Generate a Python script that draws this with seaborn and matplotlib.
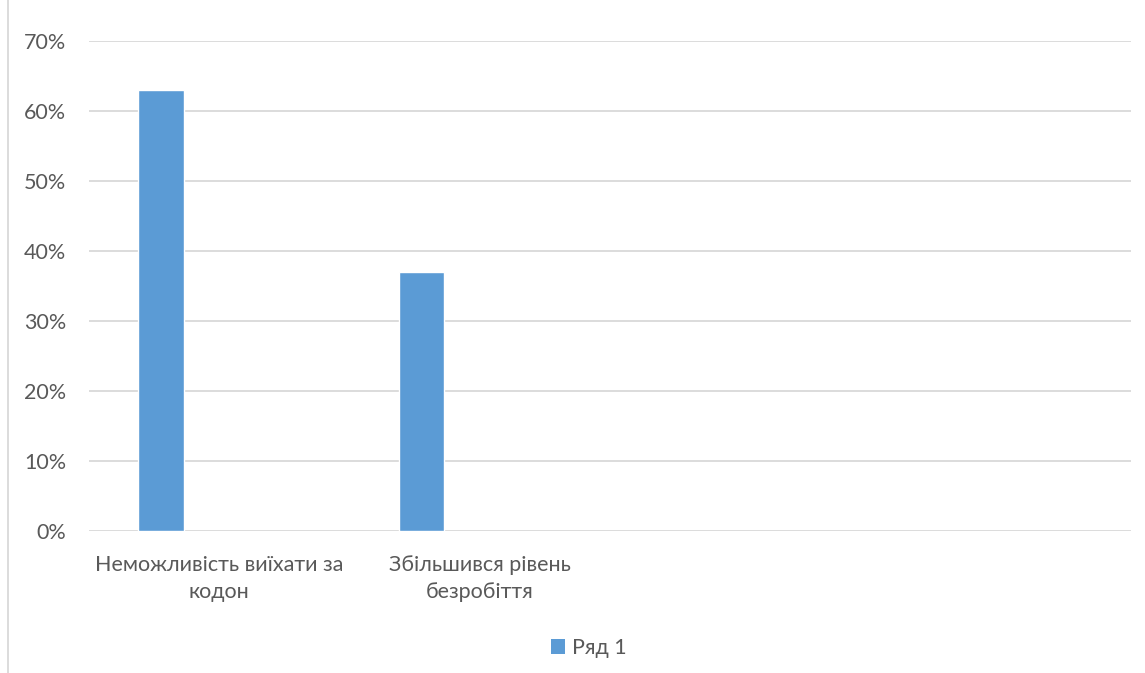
import matplotlib
matplotlib.use("Agg")
import matplotlib.pyplot as plt
import seaborn as sns
import pandas as pd
import numpy as np
from matplotlib.patches import Patch
from matplotlib.lines import Line2D
from matplotlib.ticker import PercentFormatter

# Data
categories = ["Неможливість виїхати за\nкодон", "Збільшився рівень\nбезробіття", " ", "  "]
series_names = ["Ряд 1", "Ряд 2", "Ряд 3"]
series1 = [0.63, 0.37, np.nan, np.nan]
series2 = [np.nan, np.nan, np.nan, np.nan]
series3 = [np.nan, np.nan, np.nan, np.nan]
yticks = [0, 0.1, 0.2, 0.3, 0.4, 0.5, 0.6, 0.7]

rows = []
for name, vals in zip(series_names, [series1, series2, series3]):
    for c, v in zip(categories, vals):
        rows.append({"cat": c, "series": name, "value": v})
df = pd.DataFrame(rows)

sns.set_theme(style="white")
plt.rcParams['font.family'] = ['Lato', 'DejaVu Sans']

fig = plt.figure(figsize=(11.45, 6.73), dpi=100)
ax = fig.add_axes([89/1145, 1 - 531/673, (1131-89)/1145, (531-41)/673])

bar_color = "#5B9BD5"
sns.barplot(data=df, x="cat", y="value", hue="series", order=categories,
            hue_order=series_names, palette=[bar_color, bar_color, bar_color],
            width=0.669, gap=0.215, legend=False, ax=ax, saturation=1)

ax.set_ylim(0, 0.7)
ax.set_xlim(-0.5, 3.5)
ax.set_yticks(yticks)
ax.yaxis.set_major_formatter(PercentFormatter(1.0, decimals=0))
ax.grid(axis="y", color="#d9d9d9", linewidth=1.3)
ax.set_axisbelow(True)
for s in ax.spines.values():
    s.set_visible(False)
ax.set_xlabel("")
ax.set_ylabel("")
text_color = "#595959"
fs = 15.5
ax.tick_params(axis="y", length=0, pad=16.5, labelsize=fs, labelcolor=text_color)
ax.tick_params(axis="x", length=0, pad=17.5, labelsize=fs, labelcolor=text_color)
for lbl in ax.get_xticklabels():
    lbl.set_linespacing(1.42)

# legend
handles = [Patch(facecolor=bar_color, edgecolor="none", label="Ряд 1")]
fig.legend(handles=handles, loc="center", bbox_to_anchor=(589/1145, 1 - 648/673),
           frameon=False, fontsize=fs, handlelength=0.65, handleheight=0.65,
           handletextpad=0.3, labelcolor=text_color)

# chart-area left border
fig.add_artist(Line2D([8/1145, 8/1145], [0, 1], transform=fig.transFigure,
                      color="#d9d9d9", linewidth=1.3))

fig.savefig("out.png", dpi=100, facecolor="white")
